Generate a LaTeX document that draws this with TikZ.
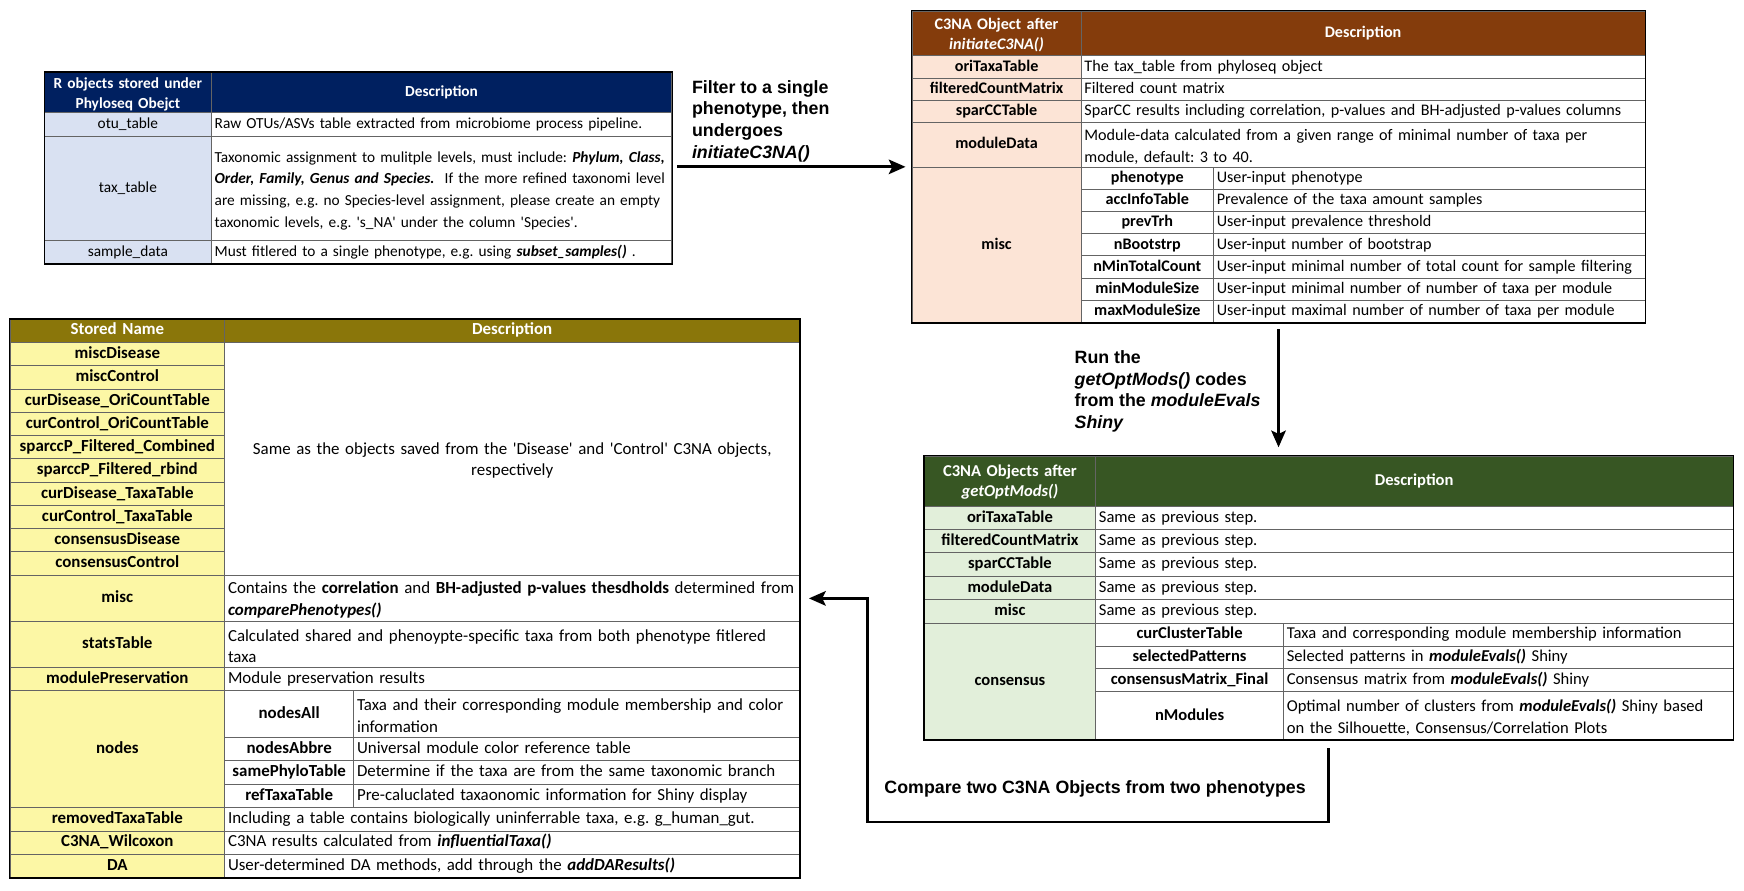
\documentclass[tikz,border=0pt]{standalone}
\usepackage{fontspec}
\setmainfont{Carlito}
\newfontfamily\arialfont{Liberation Sans}
\usetikzlibrary{arrows.meta, positioning, fit}
\definecolor{navyhead}{RGB}{0,32,96}
\definecolor{navylight}{RGB}{217,225,242}
\definecolor{brownhead}{RGB}{132,60,12}
\definecolor{brownlight}{RGB}{252,228,214}
\definecolor{greenhead}{RGB}{55,86,35}
\definecolor{greenlight}{RGB}{226,239,218}
\definecolor{olivehead}{RGB}{138,118,10}
\definecolor{olivelight}{RGB}{252,247,165}
\definecolor{gridline}{RGB}{100,100,100}
\newcommand{\tsize}{14.5}
\newcommand{\tablefont}{\fontsize{\tsize}{19.5}\selectfont\frenchspacing}
\newcommand{\headfont}{\fontsize{\tsize}{18}\selectfont}
\newcommand{\squote}[1]{\textquotesingle#1\textquotesingle}
% one table cell: style, name, x1, y1, x2, y2, text
\newcommand{\tcell}[7]{%
  \pgfmathsetmacro{\cellw}{#5-#3}\pgfmathsetmacro{\cellh}{#6-#4}\pgfmathsetmacro{\textw}{#5-#3-6}%
  \node[cell, #1, minimum width=\cellw pt, minimum height=\cellh pt, text width=\textw pt]
    (#2) at ({(#3+#5)/2},{(#4+#6)/2}) {#7};}

\begin{document}
\begin{tikzpicture}[x=1pt, y=-1pt,
    cell/.style={draw=gridline, line width=0.6pt, fill=white, inner xsep=3pt, inner ysep=0pt,
      font=\tablefont, align=left, execute at begin node=\strut},
    hdcell/.style={fill=#1, text=white, font=\headfont\bfseries, align=center},
    keycell/.style={fill=#1, font=\tablefont\bfseries, align=center},
    plaincell/.style={fill=#1, align=center},
    subcell/.style={font=\tablefont\bfseries, align=center},
    outline/.style={draw=black, line width=1.1pt, inner sep=0pt},
    flow/.style={line width=2.6pt, -{Stealth[length=15pt, width=13pt, inset=3pt]}},
    flowlabel/.style={font=\arialfont\bfseries\fontsize{16}{19.5}\selectfont, align=left, inner sep=0pt}
]
\useasboundingbox (0,0) rectangle (1568,801);

% phyloseq input table
\renewcommand{\tsize}{13.8}
\tcell{hdcell=navyhead}{pqHead}{40}{65}{190}{101}{R objects stored under\\Phyloseq Obejct}
\tcell{hdcell=navyhead}{pqHeadD}{190}{65}{604}{101}{Description}
\tcell{plaincell=navylight}{pqOtu}{40}{101}{190}{123}{otu\_table}
\tcell{}{pqOtuD}{190}{101}{604}{123}{Raw OTUs/ASVs table extracted from microbiome process pipeline.}
\tcell{plaincell=navylight}{pqTax}{40}{123}{190}{216}{tax\_table}
\tcell{}{pqTaxD}{190}{123}{604}{216}{\mbox{Taxonomic assignment to mulitple levels, must include: \textbf{\textit{Phylum, Class,}}}\\
  \mbox{\textbf{\textit{Order, Family, Genus and Species.}}\ \ If the more refined taxonomi level}\\
  \mbox{are missing, e.g. no Species-level assignment, please create an empty}\\
  \mbox{taxonomic levels, e.g. \squote{s\_NA} under the column \squote{Species}.}}
\tcell{plaincell=navylight}{pqSamp}{40}{216}{190}{237}{sample\_data}
\tcell{}{pqSampD}{190}{216}{604}{237}{Must fitlered to a single phenotype, e.g. using \textbf{\textit{subset\_samples()}} .}
\node[outline, fit=(pqHead)(pqSampD)] (phyloseq) {};

% after initiateC3NA()
\renewcommand{\tsize}{14.5}
\tcell{hdcell=brownhead}{initHead}{820}{10}{972}{50}{C3NA Object after\\\textit{initiateC3NA()}}
\tcell{hdcell=brownhead}{initHeadD}{972}{10}{1479}{50}{Description}
\foreach \nm/\ya/\yb/\txt [count=\i] in {oriTaxaTable/50/70/{The tax\_table from phyloseq object},
    filteredCountMatrix/70/90/{Filtered count matrix},
    sparCCTable/90/110/{SparCC results including correlation, p-values and BH-adjusted p-values columns},
    moduleData/110/150/{Module-data calculated from a given range of minimal number of taxa per\\module, default: 3 to 40.}}
{
  \tcell{keycell=brownlight}{initKey\i}{820}{\ya}{972}{\yb}{\nm}
  \tcell{}{initKeyD\i}{972}{\ya}{1479}{\yb}{\txt}
}
\tcell{keycell=brownlight}{initMisc}{820}{150}{972}{290}{misc}
\foreach \nm/\txt [count=\i] in {phenotype/{User-input phenotype},
    accInfoTable/{Prevalence of the taxa amount samples},
    prevTrh/{User-input prevalence threshold},
    nBootstrp/{User-input number of bootstrap},
    nMinTotalCount/{User-input minimal number of total count for sample filtering},
    minModuleSize/{User-input minimal number of number of taxa per module},
    maxModuleSize/{User-input maximal number of number of taxa per module}}
{
  \pgfmathsetmacro{\ya}{130+20*\i}
  \pgfmathsetmacro{\yb}{150+20*\i}
  \tcell{subcell}{initSub\i}{972}{\ya}{1091}{\yb}{\nm}
  \tcell{}{initSubD\i}{1091}{\ya}{1479}{\yb}{\txt}
}
\node[outline, fit=(initHead)(initSubD7)] (initC) {};

% after getOptMods()
\renewcommand{\tsize}{14.9}
\tcell{hdcell=greenhead}{optHead}{831}{410}{985}{455}{C3NA Objects after\\\textit{getOptMods()}}
\tcell{hdcell=greenhead}{optHeadD}{985}{410}{1558}{455}{Description}
\foreach \nm [count=\i] in {oriTaxaTable, filteredCountMatrix, sparCCTable, moduleData, misc}
{
  \pgfmathsetmacro{\ya}{434+21*\i}
  \pgfmathsetmacro{\yb}{455+21*\i}
  \tcell{keycell=greenlight}{optKey\i}{831}{\ya}{985}{\yb}{\nm}
  \tcell{}{optKeyD\i}{985}{\ya}{1558}{\yb}{Same as previous step.}
}
\tcell{keycell=greenlight}{optCons}{831}{560}{985}{665}{consensus}
\foreach \nm/\ya/\yb/\txt [count=\i] in {curClusterTable/560/581/{Taxa and corresponding module membership information},
    selectedPatterns/581/601/{Selected patterns in \textbf{\textit{moduleEvals()}} Shiny},
    consensusMatrix\_Final/601/622/{Consensus matrix from \textbf{\textit{moduleEvals()}} Shiny},
    nModules/622/665/{Optimal number of clusters from \textbf{\textit{moduleEvals()}} Shiny based\\on the Silhouette, Consensus/Correlation Plots}}
{
  \tcell{subcell}{optSub\i}{985}{\ya}{1154}{\yb}{\nm}
  \tcell{}{optSubD\i}{1154}{\ya}{1558}{\yb}{\txt}
}
\node[outline, fit=(optHead)(optSubD4)] (optMods) {};

% comparePhenotypes() result
\renewcommand{\tsize}{15.2}
\tcell{hdcell=olivehead}{cmpHead}{9}{287}{202}{308}{Stored Name}
\tcell{hdcell=olivehead}{cmpHeadD}{202}{287}{719}{308}{Description}
\foreach \nm [count=\i] in {miscDisease, miscControl, curDisease\_OriCountTable, curControl\_OriCountTable,
    sparccP\_Filtered\_Combined, sparccP\_Filtered\_rbind, curDisease\_TaxaTable, curControl\_TaxaTable,
    consensusDisease, consensusControl}
{
  \pgfmathsetmacro{\ya}{287.1+20.9*\i}
  \pgfmathsetmacro{\yb}{308+20.9*\i}
  \tcell{keycell=olivelight}{cmpKey\i}{9}{\ya}{202}{\yb}{\nm}
}
\tcell{align=center}{cmpSame}{202}{308}{719}{517}{Same as the objects saved from the \squote{Disease} and \squote{Control} C3NA objects,\\respectively}
\tcell{keycell=olivelight}{cmpMisc}{9}{517}{202}{559}{misc}
\tcell{}{cmpMiscD}{202}{517}{719}{559}{Contains the \textbf{correlation} and \textbf{BH-adjusted p-values thesdholds} determined from\\\textbf{\textit{comparePhenotypes()}}}
\tcell{keycell=olivelight}{cmpStats}{9}{559}{202}{600}{statsTable}
\tcell{}{cmpStatsD}{202}{559}{719}{600}{Calculated shared and phenoypte-specific taxa from both phenotype fitlered\\taxa}
\tcell{keycell=olivelight}{cmpPres}{9}{600}{202}{621}{modulePreservation}
\tcell{}{cmpPresD}{202}{600}{719}{621}{Module preservation results}
\tcell{keycell=olivelight}{cmpNodes}{9}{621}{202}{726}{nodes}
\foreach \nm/\ya/\yb/\txt [count=\i] in {nodesAll/621/663/{Taxa and their corresponding module membership and color\\information},
    nodesAbbre/663/684/{Universal module color reference table},
    samePhyloTable/684/705/{Determine if the taxa are from the same taxonomic branch},
    refTaxaTable/705/726/{Pre-caluclated taxaonomic information for Shiny display}}
{
  \tcell{subcell}{cmpSub\i}{202}{\ya}{318}{\yb}{\nm}
  \tcell{}{cmpSubD\i}{318}{\ya}{719}{\yb}{\txt}
}
\foreach \nm/\ya/\txt [count=\i] in {removedTaxaTable/726/{Including a table contains biologically uninferrable taxa, e.g. g\_human\_gut.},
    C3NA\_Wilcoxon/747/{C3NA results calculated from \textbf{\textit{influentialTaxa()}}},
    DA/768/{User-determined DA methods, add through the \textbf{\textit{addDAResults()}}}}
{
  \pgfmathsetmacro{\yb}{\ya+21}
  \tcell{keycell=olivelight}{cmpEnd\i}{9}{\ya}{202}{\yb}{\nm}
  \tcell{}{cmpEndD\i}{202}{\ya}{719}{\yb}{\txt}
}
\node[outline, fit=(cmpHead)(cmpEndD3)] (compare) {};

% flow between the tables
\coordinate (a1) at (phyloseq.east |- initC.west);
\draw[flow] ([xshift=4pt]a1) -- ([xshift=-5pt]initC.west);
\node[flowlabel, anchor=north west] (lbl1) at (622,72) {Filter to a single\\phenotype, then\\undergoes\\\textit{initiateC3NA()}};

\coordinate (a2) at (initC.south);
\coordinate (a2end) at (a2 |- optMods.north);
\draw[flow] ([yshift=-5pt]a2) -- ([yshift=7pt]a2end);
\node[flowlabel, anchor=north west] (lbl2) at (966,315) {Run the\\\textit{getOptMods()} codes\\from the \textit{moduleEvals}\\\textit{Shiny}};

\coordinate (a3) at (780,739);
\draw[flow] ([yshift=-7pt]optMods.south) |- (a3) |- ([xshift=8pt]cmpMiscD.east);
\node[flowlabel, anchor=west] (lbl3) at (795,709) {Compare two C3NA Objects from two phenotypes};
\end{tikzpicture}
\end{document}
